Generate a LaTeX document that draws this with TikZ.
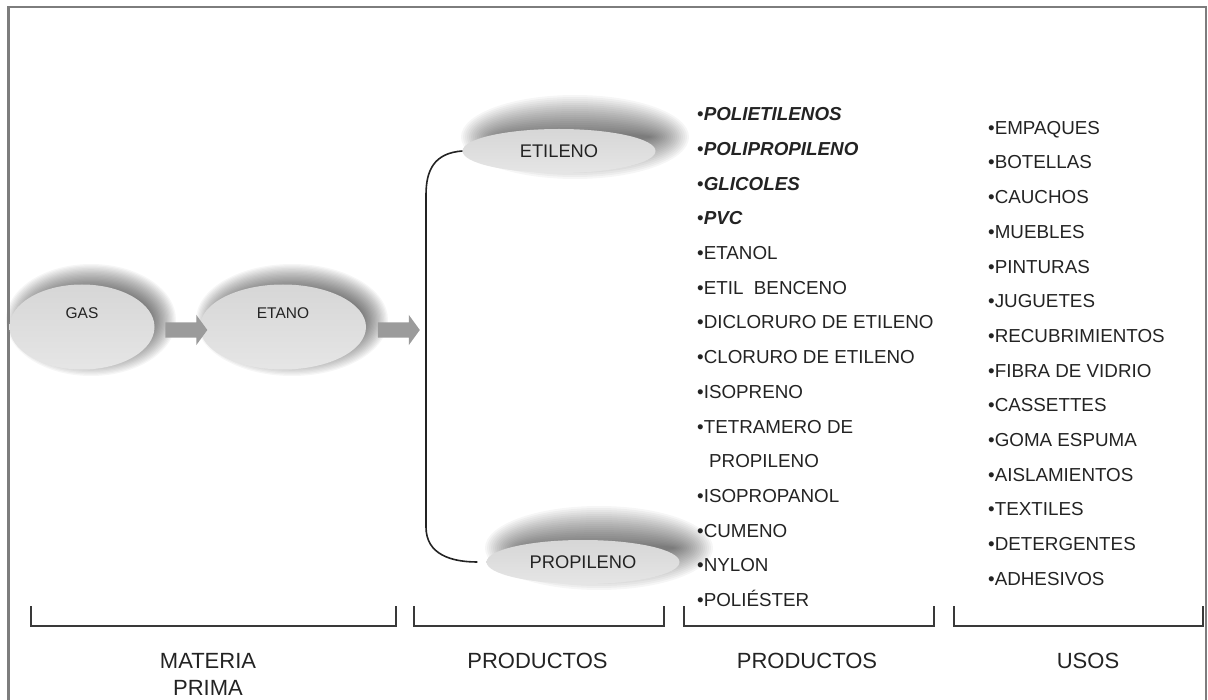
\documentclass[tikz,border=0pt]{standalone}
\usepackage{fontspec}
\setmainfont{Liberation Sans}
\usetikzlibrary{positioning,shapes.geometric,shapes.arrows,calc,backgrounds}
\definecolor{framegray}{RGB}{125,125,125}
\definecolor{inkgray}{RGB}{35,35,35}
\definecolor{arrowgray}{RGB}{155,155,155}

\begin{document}
\begin{tikzpicture}[x=1pt, y=-1pt,
    blob/.style={ellipse, inner sep=0pt, top color=black!16, middle color=black!3,
                 bottom color=black!10, text=inkgray},
    bigblob/.style={blob, minimum width=#1, minimum height=85pt,
                    font=\fontsize{15.5}{18}\selectfont, text height=11pt, text depth=28pt},
    flatblob/.style={blob, minimum width=193pt, minimum height=44pt,
                     font=\fontsize{18.3}{22}\selectfont},
    feed/.style={single arrow, fill=arrowgray, draw=none, inner sep=0pt,
                 text height=15pt, text depth=0pt, minimum height=42pt,
                 single arrow head extend=7.5pt, single arrow tip angle=108},
    item/.style={anchor=west, inner sep=0pt, text height=13.5pt, text depth=0pt,
                 font=\fontsize{18.8}{22}\selectfont, text=inkgray},
    caption/.style={align=center, inner sep=0pt, font=\fontsize{22}{27}\selectfont, text=inkgray},
    linkline/.style={draw=inkgray, line width=1.6pt},
    bracketline/.style={draw=inkgray!90, line width=1.6pt},
    frameline/.style={draw=framegray, line width=2.5pt}]
  \useasboundingbox (0,0) rectangle (1208,700);
  \draw[frameline] (8.5,700) |- (1206,7) -- (1206,700);

  % raw material and first products
  \node[bigblob=145pt] (gas)   at (82,327)  {GAS};
  \node[bigblob=166pt] (etano) at (283,327) {ETANO};
  \node[flatblob] (etileno)   at (559,151) {ETILENO};
  \node[flatblob] (propileno) at (583,562) {PROPILENO};
  \node[feed] (feed1) at (183.5,330) {};
  \node[feed] (feed2) at (396,330) {};

  % soft shadows behind the ellipses
  \begin{scope}[on background layer]
    \foreach \n/\rx/\ry/\dx/\dy/\b in {gas/72/43/9/-7/13, etano/83/43/9/-7/13,
                                       etileno/94/22/16/-14/20, propileno/94/22/16/-14/20}
      \foreach \k in {0,...,19}
        \fill[black, fill opacity=0.036] ($(\n.center)+(\dx,\dy)$)
          ellipse [x radius={(\rx+\b-\k*\b/10)*1pt}, y radius={max(\ry+\b-\k*\b/10,2)*1pt}];
  \end{scope}

  % link between the two olefins
  \coordinate (bendtop) at (426,195);
  \coordinate (bendbot) at (426,527);
  \draw[linkline] (etileno.west) .. controls +(-28,2) and +(0,-25) .. (bendtop)
    -- (bendbot) .. controls +(0,28) and +(-25,0) .. ([xshift=-9pt]propileno.west);

  % derived products
  \foreach \txt [count=\i from 0] in {•{\bfseries\itshape POLIETILENOS},
      •{\bfseries\itshape POLIPROPILENO}, •{\bfseries\itshape GLICOLES},
      •{\bfseries\itshape PVC}, •ETANOL, •ETIL\ \ BENCENO, •DICLORURO DE ETILENO,
      •CLORURO DE ETILENO, •ISOPRENO, •TETRAMERO DE, \hspace*{12pt}PROPILENO,
      •ISOPROPANOL, •CUMENO, •NYLON, •POLIÉSTER}
    \node[item] (prod\i) at (697,{114+34.7*\i}) {\txt};

  % uses
  \foreach \txt [count=\i from 0] in {EMPAQUES, BOTELLAS, CAUCHOS, MUEBLES, PINTURAS,
      JUGUETES, RECUBRIMIENTOS, FIBRA DE VIDRIO, CASSETTES, GOMA ESPUMA,
      AISLAMIENTOS, TEXTILES, DETERGENTES, ADHESIVOS}
    \node[item] (uso\i) at (988,{127.5+34.7*\i}) {•\txt};

  % column brackets
  \foreach \a/\b in {31/396, 414/664, 684/934, 954/1203}
    \draw[bracketline] (\a,606) |- (\b,626) -- (\b,606);
  \node[caption] (capmat)   at (208,674.5) {MATERIA\\PRIMA};
  \node[caption] (capprod)  at (537.5,661) {PRODUCTOS};
  \node[caption] (capderiv) at (807,661)   {PRODUCTOS};
  \node[caption] (capusos)  at (1088,661)  {USOS};
\end{tikzpicture}
\end{document}
